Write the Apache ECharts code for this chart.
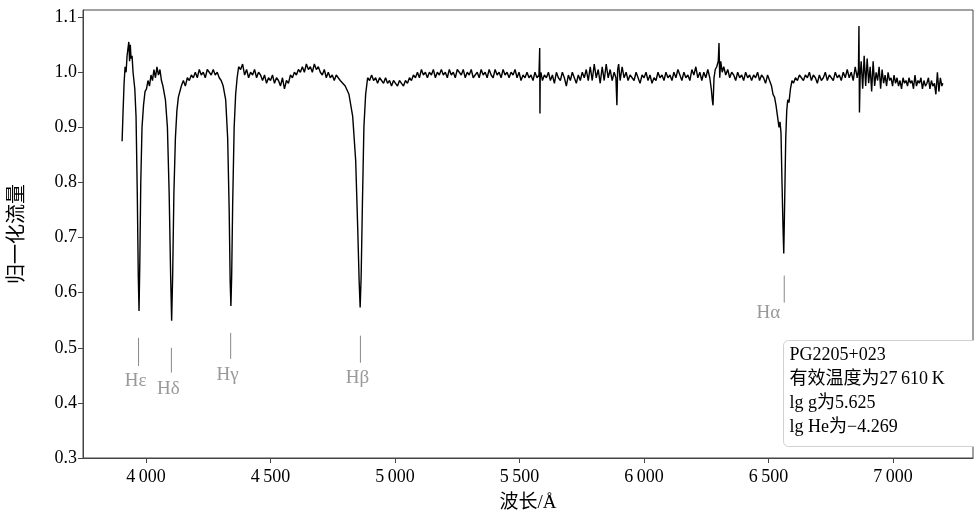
<!DOCTYPE html>
<html>
<head>
<meta charset="utf-8">
<script src="https://cdn.jsdelivr.net/npm/echarts@6/dist/echarts.min.js"></script>
<style>html,body{margin:0;padding:0;background:#fff}#chart{width:974px;height:529px}</style>
</head>
<body>
<div id="chart"></div>
<script>
// [wavelength (Å), normalised flux]
var spectrum = [
[3904,0.875],[3908,0.93],[3912,0.98],[3916,1.01],[3920,1.0],[3924,1.03],[3928,1.045],[3931,1.055],[3934,1.02],[3937,1.05],[3940,1.025],[3944,1.03],[3948,1.0],[3955,0.97],[3960,0.92],[3965,0.78],[3969,0.63],[3972,0.567],[3975,0.65],[3979,0.80],[3984,0.90],[3990,0.94],[3996,0.965],[4002,0.97],[4008,0.985],[4014,0.975],[4020,0.995],[4026,0.985],[4032,1.005],[4038,0.99],[4044,1.01],[4050,0.995],[4056,1.005],[4062,0.985],[4068,0.975],[4078,0.95],[4086,0.90],[4093,0.78],[4099,0.63],[4103,0.549],[4107,0.63],[4112,0.78],[4118,0.88],[4124,0.93],[4130,0.955],[4136,0.965],[4142,0.975],[4150,0.985],[4158,0.975],[4166,0.99],[4174,0.985],[4182,0.995],[4190,0.99],[4198,1.0],[4206,0.99],[4214,1.005],[4222,0.995],[4230,1.0],[4238,0.99],[4246,1.005],[4254,1.0],[4262,0.995],[4270,1.005],[4278,0.995],[4286,1.0],[4294,0.99],[4302,0.985],[4310,0.975],[4320,0.95],[4328,0.88],[4334,0.75],[4338,0.62],[4341,0.576],[4344,0.63],[4348,0.76],[4354,0.90],[4360,0.96],[4366,0.99],[4372,1.01],[4380,1.005],[4388,1.015],[4396,0.995],[4404,1.005],[4412,0.99],[4420,1.0],[4428,0.995],[4436,1.005],[4444,0.99],[4452,1.0],[4460,0.995],[4468,0.985],[4476,0.995],[4484,0.98],[4492,0.99],[4500,0.985],[4508,0.995],[4516,0.98],[4524,0.99],[4532,0.985],[4540,0.975],[4548,0.99],[4556,0.97],[4564,0.985],[4572,0.98],[4580,0.995],[4588,0.99],[4596,1.0],[4604,0.995],[4612,1.005],[4620,1.0],[4628,1.01],[4636,1.0],[4644,1.015],[4652,1.005],[4660,1.01],[4668,1.0],[4676,1.015],[4684,1.005],[4692,1.01],[4700,1.0],[4708,0.995],[4716,1.005],[4724,0.99],[4732,1.0],[4740,0.99],[4748,0.995],[4756,0.985],[4764,0.995],[4772,0.99],[4780,0.985],[4790,0.98],[4800,0.975],[4815,0.96],[4830,0.92],[4842,0.84],[4850,0.72],[4856,0.62],[4860,0.573],[4864,0.63],[4869,0.76],[4875,0.90],[4882,0.96],[4890,0.99],[4898,0.985],[4906,0.995],[4914,0.985],[4922,0.99],[4930,0.98],[4938,0.99],[4946,0.985],[4954,0.98],[4962,0.99],[4970,0.98],[4978,0.985],[4986,0.975],[4994,0.985],[5002,0.98],[5010,0.975],[5018,0.985],[5026,0.98],[5034,0.975],[5042,0.985],[5050,0.98],[5058,0.99],[5066,0.985],[5074,0.995],[5082,0.99],[5090,1.0],[5098,0.99],[5106,1.005],[5114,0.995],[5122,1.0],[5130,0.99],[5138,1.0],[5146,0.995],[5154,1.005],[5162,0.99],[5170,1.0],[5178,0.995],[5186,1.005],[5194,0.995],[5202,1.0],[5210,0.99],[5218,1.005],[5226,0.995],[5234,1.0],[5242,0.99],[5250,1.005],[5258,1.0],[5266,0.995],[5274,1.005],[5282,0.99],[5290,1.0],[5298,0.995],[5306,1.005],[5314,0.99],[5322,0.995],[5330,1.0],[5338,0.99],[5346,1.005],[5354,0.995],[5362,1.0],[5370,0.99],[5378,1.005],[5386,0.995],[5394,0.99],[5402,1.005],[5410,0.995],[5418,1.0],[5426,0.99],[5434,1.005],[5442,0.995],[5450,1.0],[5458,0.99],[5466,1.0],[5474,0.995],[5482,1.005],[5490,0.99],[5498,1.0],[5506,0.985],[5514,0.995],[5522,0.99],[5530,1.0],[5538,0.99],[5546,0.995],[5554,0.985],[5562,1.0],[5570,0.99],[5578,0.995],[5581,1.044],[5582,0.925],[5583,0.99],[5586,1.0],[5592,0.985],[5600,0.995],[5608,0.99],[5616,1.0],[5624,0.985],[5632,0.995],[5640,0.98],[5648,1.0],[5656,0.99],[5664,0.985],[5672,1.0],[5680,0.99],[5688,0.975],[5696,0.995],[5704,0.985],[5712,1.0],[5720,0.99],[5728,0.98],[5736,0.995],[5744,0.985],[5752,1.0],[5760,0.99],[5768,1.005],[5776,0.985],[5784,1.01],[5792,0.985],[5800,1.015],[5808,0.99],[5816,1.005],[5824,0.98],[5832,1.01],[5840,0.985],[5848,1.015],[5856,0.99],[5864,1.005],[5872,0.985],[5880,1.0],[5887,0.99],[5891,0.94],[5894,1.005],[5898,1.015],[5904,0.985],[5912,1.01],[5920,0.99],[5928,1.0],[5936,0.985],[5944,0.995],[5952,0.99],[5960,0.985],[5968,1.0],[5976,0.99],[5984,0.98],[5992,0.995],[6000,0.99],[6008,1.0],[6016,0.985],[6024,0.995],[6032,0.98],[6040,0.99],[6048,0.985],[6056,1.0],[6064,0.99],[6072,0.995],[6080,0.985],[6088,1.0],[6096,0.99],[6104,0.995],[6112,0.985],[6120,1.0],[6128,0.99],[6136,1.005],[6144,0.995],[6152,0.985],[6160,1.0],[6168,0.99],[6176,0.995],[6184,0.985],[6192,1.005],[6200,0.995],[6208,1.01],[6216,0.99],[6224,1.0],[6232,0.985],[6240,1.0],[6248,0.99],[6256,1.005],[6264,0.99],[6270,0.97],[6274,0.95],[6277,0.94],[6281,0.99],[6286,1.005],[6292,1.01],[6298,1.02],[6301,1.053],[6304,0.99],[6308,1.02],[6314,1.0],[6320,1.01],[6328,0.995],[6336,1.005],[6344,0.99],[6352,1.0],[6360,0.995],[6368,0.985],[6376,1.0],[6384,0.99],[6392,0.995],[6400,0.985],[6408,1.0],[6416,0.99],[6424,0.995],[6432,0.985],[6440,0.995],[6448,0.99],[6456,1.0],[6464,0.985],[6472,0.995],[6480,0.99],[6488,0.98],[6496,0.995],[6504,0.985],[6512,0.975],[6518,0.96],[6524,0.955],[6530,0.94],[6536,0.92],[6542,0.90],[6546,0.91],[6550,0.89],[6554,0.80],[6558,0.72],[6561,0.671],[6563,0.72],[6566,0.80],[6569,0.88],[6573,0.93],[6577,0.95],[6582,0.945],[6588,0.97],[6594,0.985],[6600,0.98],[6608,0.99],[6616,0.985],[6624,0.995],[6632,0.99],[6640,0.985],[6648,0.995],[6656,0.99],[6664,1.0],[6672,0.985],[6680,0.995],[6688,0.99],[6696,0.98],[6704,0.995],[6712,0.985],[6720,0.99],[6728,1.0],[6736,0.985],[6744,0.995],[6752,0.99],[6760,0.985],[6768,1.0],[6776,0.99],[6784,0.995],[6792,0.985],[6800,1.0],[6808,0.99],[6816,1.005],[6824,0.99],[6832,1.0],[6840,0.985],[6848,1.01],[6856,0.99],[6861,1.005],[6863,1.084],[6865,0.927],[6868,0.995],[6872,1.02],[6878,0.97],[6884,1.03],[6890,0.975],[6896,1.025],[6902,0.98],[6908,1.01],[6914,0.965],[6920,1.02],[6926,0.975],[6932,1.0],[6938,0.985],[6944,1.01],[6950,0.97],[6956,1.005],[6962,0.98],[6968,0.995],[6974,0.975],[6980,1.0],[6986,0.985],[6992,0.99],[6998,0.975],[7004,0.995],[7010,0.98],[7016,0.99],[7022,0.975],[7028,0.985],[7034,0.97],[7040,0.99],[7046,0.98],[7052,0.985],[7058,0.975],[7064,0.99],[7070,0.98],[7076,0.985],[7082,0.97],[7088,0.995],[7094,0.975],[7100,0.985],[7106,0.98],[7112,0.99],[7118,0.97],[7124,0.985],[7130,0.975],[7136,0.98],[7142,0.99],[7148,0.97],[7154,0.985],[7160,0.975],[7166,0.98],[7172,0.96],[7178,1.0],[7184,0.965],[7190,0.99],[7196,0.975],[7200,0.98]
];
var lineNames = ['Hε','Hδ','Hγ','Hβ','Hα'];
var lineWl = [3970,4102,4340,4861,6563];
var tickTop = [0.518,0.500,0.527,0.522,0.631];
var tickBottom = [0.467,0.455,0.480,0.473,0.582];
var labelY = [0.44,0.425,0.451,0.445,0.564];
var xTicks = [4000,4500,5000,5500,6000,6500,7000];
var yTicks = [0.3,0.4,0.5,0.6,0.7,0.8,0.9,1.0,1.1];
var infoLines = ['PG2205+023','有效温度为27\u2009610\u2009K','lg g为5.625','lg He为−4.269'];

var serif = '"Liberation Serif", "DejaVu Serif", "Noto Sans CJK SC", serif';

var series = [{
    type: 'line', data: spectrum, showSymbol: false, silent: true,
    lineStyle: { color: '#000', width: 1.4 }
}];
lineWl.forEach(function (w, i) {
    series.push({
        type: 'line', silent: true, showSymbol: false,
        data: [[w, tickTop[i]], [w, tickBottom[i]]],
        lineStyle: { color: '#888', width: 1 }
    });
    series.push({
        type: 'scatter', silent: true, symbolSize: 0,
        data: [[w, labelY[i]]],
        label: {
            show: true, formatter: lineNames[i], position: 'inside',
            offset: [i === 4 ? -16 : -3, 0],
            color: '#808080', fontSize: 19, fontFamily: serif
        }
    });
});

var myChart = echarts.init(document.getElementById('chart'));
var option = {
    animation: false,
    grid: { left: 83, right: 1, top: 10, bottom: 71, show: true, borderColor: '#444', borderWidth: 1 },
    xAxis: {
        type: 'value', min: 3747, max: 7321,
        name: '波长/Å', nameLocation: 'middle', nameGap: 36,
        nameTextStyle: { fontSize: 19, fontFamily: serif, color: '#000' },
        axisLine: { onZero: false, lineStyle: { color: '#444' } },
        axisTick: { show: true, length: 5, customValues: xTicks, lineStyle: { color: '#444' } },
        axisLabel: {
            fontSize: 18, fontFamily: serif, color: '#000', margin: 10,
            customValues: xTicks,
            formatter: function (v) { return String(v).replace(/(\d)(\d{3})$/, '$1\u2009$2'); }
        },
        splitLine: { show: false }
    },
    yAxis: {
        type: 'value', min: 0.3, max: 1.113,
        name: '归一化流量', nameLocation: 'middle', nameGap: 55,
        nameTextStyle: { fontSize: 20, fontFamily: serif, color: '#000' },
        axisLine: { show: true, lineStyle: { color: '#444' } },
        axisTick: { show: true, length: 5, customValues: yTicks, lineStyle: { color: '#444' } },
        axisLabel: {
            fontSize: 18, fontFamily: serif, color: '#000', margin: 6,
            customValues: yTicks,
            formatter: function (v) { return v.toFixed(1); }
        },
        splitLine: { show: false }
    },
    graphic: [{
        type: 'group', left: 783, top: 340,
        children: [{
            type: 'rect', shape: { x: 0, y: 0, width: 200, height: 106, r: 5 },
            style: { fill: '#fff', stroke: '#d0d0d0', lineWidth: 1 }
        }].concat(infoLines.map(function (t, i) {
            return {
                type: 'text', x: 6, y: 6 + i * 24,
                style: { text: t, fontSize: 18, fontFamily: serif, fill: '#000' }
            };
        }))
    }],
    series: series
};
option && myChart.setOption(option);
window.onresize = function () { myChart.resize(); };
</script>
</body>
</html>
